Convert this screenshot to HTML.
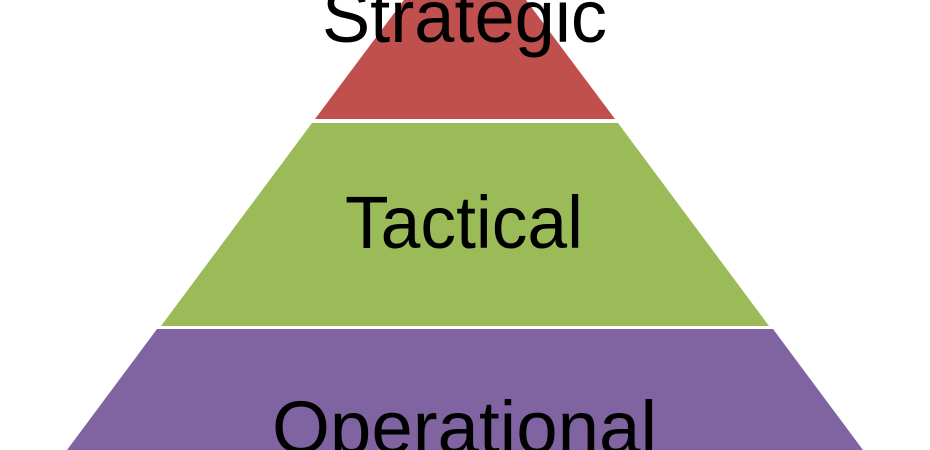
<!DOCTYPE html>
<html><head><style>html,body{margin:0;padding:0;background:#fff;}svg{display:block}</style></head>
<body>
<svg width="930" height="450" viewBox="0 0 930 450" xmlns="http://www.w3.org/2000/svg">
<polygon points="404,0 526,0 615,119 315,119" fill="#c0504d"/>
<polygon points="312,123 618,123 769,326 161,326" fill="#9bbb59"/>
<polygon points="157,329 773,329 863,450 67,450" fill="#8064a2"/>
<g font-family="Liberation Sans, sans-serif" font-size="74" fill="#000">
<text x="322" y="42" textLength="285" lengthAdjust="spacingAndGlyphs">Strategic</text>
<text x="345" y="248" textLength="238" lengthAdjust="spacingAndGlyphs">Tactical</text>
<text x="272" y="453" textLength="385" lengthAdjust="spacingAndGlyphs">Operational</text>
</g>
</svg>
</body></html>
